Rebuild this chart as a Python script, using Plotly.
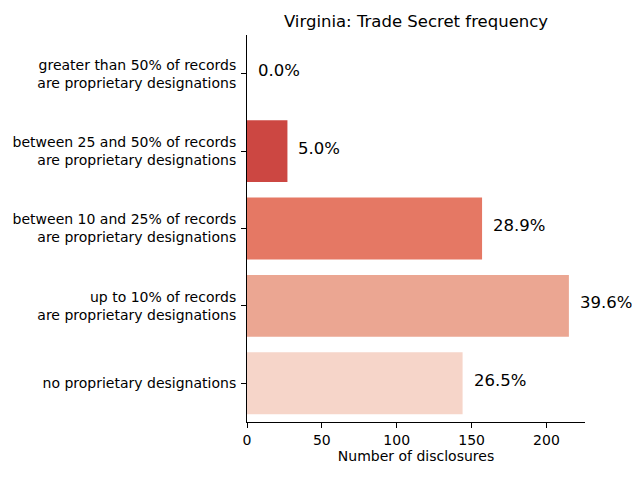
import plotly.graph_objects as go

categories = [
    "no proprietary designations",
    "up to 10% of records<br>are proprietary designations",
    "between 10 and 25% of records<br>are proprietary designations",
    "between 25 and 50% of records<br>are proprietary designations",
    "greater than 50% of records<br>are proprietary designations",
]
counts = [144, 215, 157, 27, 0]
colors = ["#f6d5c9", "#eba692", "#e57864", "#cc4742", "#a8221f"]

total = sum(counts)
pcts = [c / total * 100 for c in counts]

fig = go.Figure()
fig.add_trace(go.Bar(
    y=categories, x=counts, orientation="h",
    marker=dict(color=colors, line=dict(width=0)),
    width=0.8, showlegend=False, hoverinfo="skip",
))
for cat, c, p in zip(categories, counts, pcts):
    fig.add_annotation(
        x=c, y=cat, text=f"{p:.1f}%", showarrow=False,
        xanchor="left", yanchor="middle", xshift=9, yshift=3,
        font=dict(family="DejaVu Sans", size=16.5, color="black"),
    )

# page body has an 8px offset; compensate in the margins
fig.update_layout(
    width=640, height=480,
    margin=dict(l=239, r=63, t=27, b=66, autoexpand=False),
    paper_bgcolor="white", plot_bgcolor="white",
    font=dict(family="DejaVu Sans", size=14, color="black"),
    title=dict(text="Virginia: Trade Secret frequency", x=(239 + 577) / 2 / 640,
               xanchor="center", y=1 - 13 / 480, yanchor="middle",
               font=dict(size=16.5, color="black")),
    bargap=0.2,
)
fig.update_xaxes(
    range=[0, 225.75], showgrid=False, zeroline=False,
    showline=True, linecolor="black", linewidth=1,
    ticks="outside", ticklen=5, tickcolor="black",
    tickvals=[0, 50, 100, 150, 200],
    title=dict(text="Number of disclosures", font=dict(size=14), standoff=4),
    tickfont=dict(size=14), automargin=False,
)
fig.update_yaxes(
    range=[-0.5, 4.5], showgrid=False, zeroline=False,
    showline=True, linecolor="black", linewidth=1,
    ticks="outside", ticklen=5, tickcolor="black",
    categoryorder="array", categoryarray=categories,
    tickfont=dict(size=14), automargin=False, ticklabelstandoff=2,
)

fig.write_html("out.html")
